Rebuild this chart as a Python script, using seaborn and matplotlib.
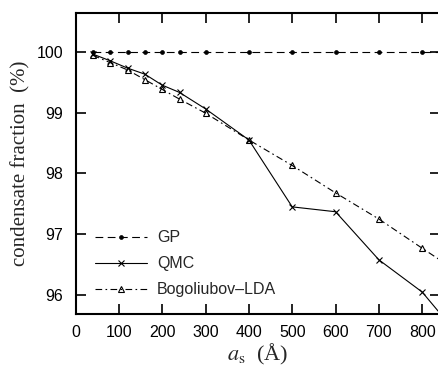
import pandas as pd
import matplotlib.pyplot as plt
import seaborn as sns

# valores
a_s = [40, 80, 120, 160, 200, 240, 300, 400, 500, 600, 700, 800, 900]
gp = [100, 100, 100, 100, 100, 100, 100, 100, 100, 100, 100, 100, 100]
qmc = [99.96, 99.85, 99.73, 99.63, 99.45, 99.33, 99.06, 98.55, 97.45, 97.37, 96.58, 96.05, 95.2]
bog = [99.94, 99.82, 99.70, 99.54, 99.38, 99.22, 98.99, 98.55, 98.13, 97.68, 97.25, 96.77, 96.3]

xticks = [0, 100, 200, 300, 400, 500, 600, 700, 800]
yticks = [96, 97, 98, 99, 100]

data = pd.DataFrame({'a_s': a_s, 'GP': gp, 'QMC': qmc, 'Bogoliubov-LDA': bog})

sns.set_style('ticks')
plt.rcParams['font.family'] = ['Liberation Sans', 'DejaVu Sans']
plt.rcParams['mathtext.fontset'] = 'stix'

fig = plt.figure(figsize=(4.38, 3.69), dpi=100)
# el eje derecho queda justo fuera de la imagen, como en la original
ax = fig.add_axes([75.5 / 438, 1 - 314 / 369, (440 - 75.5) / 438, (314 - 12.7) / 369])

sns.lineplot(x='a_s', y='GP', data=data, ax=ax, color='black', lw=0.8,
             linestyle=(0, (7, 4)), marker='o', markersize=2.8,
             markeredgecolor='black', markeredgewidth=0.5, label='GP')
sns.lineplot(x='a_s', y='QMC', data=data, ax=ax, color='black', lw=0.8,
             marker='x', markersize=4.5, markeredgewidth=0.8,
             markeredgecolor='black', label='QMC')
sns.lineplot(x='a_s', y='Bogoliubov-LDA', data=data, ax=ax, color='black', lw=0.8,
             linestyle=(0, (6, 3, 1.5, 3)), marker='^', markersize=5,
             markerfacecolor='none', markeredgecolor='black', markeredgewidth=0.8,
             label='Bogoliubov\u2013LDA')

ax.set_xlim(0, 841)
ax.set_ylim(95.69, 100.64)
ax.set_xticks(xticks)
ax.set_yticks(yticks)
ax.tick_params(direction='in', length=7, width=1.2, top=True, right=True,
               labelsize=11.5, colors='black')
ax.tick_params(axis='x', pad=8)
ax.tick_params(axis='y', pad=9)
for s in ax.spines.values():
    s.set_linewidth(1.5)
    s.set_color('black')

ax.set_xlabel(r'$a_{\rm s}$  (Å)', fontsize=16, family='Liberation Serif', labelpad=1)
ax.set_ylabel('condensate fraction  (%)', fontsize=15, family='Liberation Serif', labelpad=4)

ax.legend(loc='lower left', bbox_to_anchor=(0.04, 0.04), borderaxespad=0,
          frameon=False, fontsize=11.5, handlelength=3.25,
          handletextpad=0.63, labelspacing=0.69, borderpad=0.3)

plt.savefig('out.png', dpi=100)
plt.close()
